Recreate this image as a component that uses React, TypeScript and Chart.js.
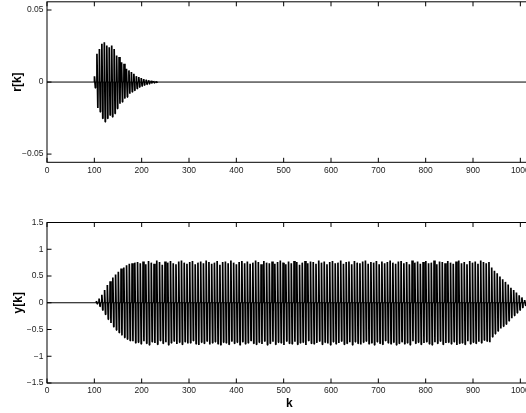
import React, { useEffect, useRef } from 'react';
import { Chart, registerables } from 'chart.js';

Chart.register(...registerables);

// ---------- data ----------
const K_MAX = 1024;
const xTickValues = [0, 100, 200, 300, 400, 500, 600, 700, 800, 900, 1000];
const xTickLabels = ['0', '100', '200', '300', '400', '500', '600', '700', '800', '900', '1000'];

const rTickValues = [-0.05, 0, 0.05];
const rTickLabels = ['\u22120.05', '0', '0.05'];
const R_LIMIT = 0.0557;

const yTickValues = [-1.5, -1, -0.5, 0, 0.5, 1, 1.5];
const yTickLabels = ['\u22121.5', '\u22121', '\u22120.5', '0', '0.5', '1', '1.5'];
const Y_LIMIT = 1.5;

// r[k]: burst, one entry per visible stripe (first stripe at k = 100, every 5.2 samples)
const rFirstK = 100;
const rStripeStep = 5.2;
const rUpper = [
  0.004, 0.0196, 0.023, 0.0265, 0.0276, 0.0253, 0.0242, 0.0253, 0.023, 0.0184, 0.0173, 0.0138, 0.0127,
  0.0092, 0.0081, 0.0069, 0.0058, 0.0041, 0.0035, 0.0028, 0.0021, 0.0016, 0.0012, 0.0009, 0.0006, 0.0004,
];
const rLower = [
  -0.004, -0.018, -0.0207, -0.0253, -0.0276, -0.0253, -0.023, -0.0242, -0.0219, -0.0184, -0.015, -0.0138, -0.0115,
  -0.0104, -0.0081, -0.0069, -0.0058, -0.0046, -0.0035, -0.0028, -0.0021, -0.0016, -0.0012, -0.0009, -0.0006, -0.0004,
];

// y[k]: one entry per visible stripe (first stripe at k = 104, every 5.8 samples)
const yFirstK = 104;
const yStripeStep = 5.8;
const yUpper = [
  0.03, 0.08, 0.15, 0.24, 0.33, 0.4, 0.47, 0.53, 0.58, 0.64, 0.66, 0.7, 0.73, 0.74, 0.75,
  0.76, 0.74, 0.77, 0.72, 0.78, 0.75, 0.73, 0.79, 0.76, 0.71, 0.77, 0.75, 0.78, 0.74, 0.72, 0.77,
  0.79, 0.75, 0.73, 0.76, 0.78, 0.72, 0.75, 0.77, 0.74, 0.79, 0.76, 0.73, 0.75, 0.78, 0.71, 0.76,
  0.77, 0.74, 0.79, 0.75, 0.72, 0.76, 0.78, 0.74, 0.77, 0.73, 0.75, 0.79, 0.76, 0.72, 0.78, 0.75,
  0.74, 0.77, 0.73, 0.76, 0.79, 0.75, 0.72, 0.77, 0.74, 0.78, 0.76, 0.71, 0.75, 0.78, 0.74, 0.77,
  0.76, 0.73, 0.79, 0.75, 0.77, 0.72, 0.76, 0.78, 0.74, 0.75, 0.79, 0.73, 0.76, 0.77, 0.72, 0.78,
  0.75, 0.74, 0.77, 0.79, 0.73, 0.76, 0.75, 0.78, 0.72, 0.77, 0.74, 0.76, 0.79, 0.75, 0.73, 0.77,
  0.78, 0.74, 0.76, 0.72, 0.79, 0.75, 0.77, 0.73, 0.76, 0.78, 0.74, 0.75, 0.79, 0.72, 0.77, 0.76,
  0.74, 0.78, 0.75, 0.73, 0.77, 0.79, 0.74, 0.76, 0.72, 0.78, 0.75, 0.77, 0.73, 0.79, 0.76, 0.74,
  0.76, 0.66, 0.6, 0.55, 0.49, 0.44, 0.39, 0.34, 0.28, 0.24, 0.19, 0.14, 0.1, 0.05, 0.02,
];
const yLower = [
  -0.02, -0.07, -0.14, -0.22, -0.31, -0.38, -0.45, -0.51, -0.56, -0.61, -0.65, -0.68, -0.71, -0.72, -0.75,
  -0.74, -0.77, -0.72, -0.76, -0.79, -0.73, -0.75, -0.78, -0.71, -0.76, -0.74, -0.79, -0.75, -0.72, -0.77, -0.74,
  -0.78, -0.73, -0.76, -0.75, -0.71, -0.77, -0.79, -0.74, -0.76, -0.72, -0.78, -0.75, -0.73, -0.77, -0.79, -0.74,
  -0.75, -0.78, -0.72, -0.76, -0.74, -0.79, -0.73, -0.77, -0.75, -0.71, -0.76, -0.78, -0.74, -0.77, -0.72, -0.79,
  -0.76, -0.73, -0.78, -0.74, -0.75, -0.79, -0.72, -0.76, -0.77, -0.73, -0.78, -0.75, -0.74, -0.79, -0.71, -0.76,
  -0.77, -0.75, -0.72, -0.78, -0.74, -0.76, -0.79, -0.73, -0.77, -0.75, -0.72, -0.78, -0.76, -0.74, -0.79, -0.73,
  -0.76, -0.78, -0.74, -0.72, -0.77, -0.75, -0.79, -0.73, -0.76, -0.78, -0.71, -0.75, -0.77, -0.74, -0.79, -0.76,
  -0.73, -0.77, -0.75, -0.79, -0.72, -0.76, -0.74, -0.78, -0.75, -0.73, -0.77, -0.79, -0.74, -0.76, -0.72, -0.78,
  -0.75, -0.74, -0.77, -0.73, -0.79, -0.76, -0.75, -0.78, -0.72, -0.77, -0.74, -0.76, -0.73, -0.75, -0.7, -0.72,
  -0.74, -0.64, -0.58, -0.53, -0.48, -0.44, -0.4, -0.34, -0.29, -0.24, -0.19, -0.14, -0.09, -0.05, -0.02,
];

// ---------- helpers ----------
type Pt = { x: number; y: number | null };

// the oscillating part of the signal, one short up/down stroke per stripe
function buildStripes(firstK: number, step: number, upper: number[], lower: number[]): Pt[] {
  const pts: Pt[] = [];
  for (let i = 0; i < upper.length; i++) {
    const k = firstK + i * step;
    pts.push(
      { x: k, y: 0 },
      { x: k + 0.3, y: upper[i] },
      { x: k + 2.2, y: lower[i] },
      { x: k + 2.6, y: 0 },
      { x: k + 2.8, y: null }
    );
  }
  return pts;
}

// the flat (zero) part of the signal
const baseline: Pt[] = [
  { x: 0, y: 0 },
  { x: K_MAX, y: 0 },
];

const TICK_LEN = 4.5;
const FONT = "'Liberation Sans', Arial, Helvetica, sans-serif";

const framePlugin = {
  id: 'matlabFrame',
  afterDraw(chart: any) {
    const { ctx, chartArea: a, scales } = chart;
    const xs = scales.x;
    const ys = scales.y;
    ctx.save();
    ctx.strokeStyle = '#000';
    ctx.lineWidth = 1;
    ctx.strokeRect(a.left, a.top, a.right - a.left, a.bottom - a.top);
    ctx.beginPath();
    xs.ticks.forEach((t: any) => {
      const p = xs.getPixelForValue(t.value);
      ctx.moveTo(p, a.bottom);
      ctx.lineTo(p, a.bottom - TICK_LEN);
      ctx.moveTo(p, a.top);
      ctx.lineTo(p, a.top + TICK_LEN);
    });
    ys.ticks.forEach((t: any) => {
      const p = ys.getPixelForValue(t.value);
      ctx.moveTo(a.left, p);
      ctx.lineTo(a.left + TICK_LEN, p);
      ctx.moveTo(a.right, p);
      ctx.lineTo(a.right - TICK_LEN, p);
    });
    ctx.stroke();
    ctx.restore();
  },
};

interface PanelCfg {
  stripes: Pt[];
  yLimit: number;
  yTicks: number[];
  yLabels: string[];
  yTitle: string;
  yTitlePad: number;
  xTitle: string | null;
  padTop: number;
  xAxisHeight: number;
}

function makeConfig(c: PanelCfg): any {
  return {
    type: 'line',
    data: {
      datasets: [
        {
          data: baseline,
          borderColor: '#000',
          borderWidth: 1,
          pointRadius: 0,
          tension: 0,
          fill: false,
        },
        {
          data: c.stripes,
          borderColor: '#000',
          borderWidth: 1.7,
          borderJoinStyle: 'bevel',
          pointRadius: 0,
          tension: 0,
          fill: false,
          spanGaps: false,
        },
      ],
    },
    options: {
      responsive: false,
      animation: false,
      devicePixelRatio: 1,
      parsing: false,
      layout: { autoPadding: false, padding: { top: c.padTop, right: 28.3, left: 0, bottom: 0 } },
      plugins: { legend: { display: false }, tooltip: { enabled: false }, title: { display: false } },
      events: [],
      scales: {
        x: {
          type: 'linear',
          min: 0,
          max: K_MAX,
          grid: { display: false, drawTicks: false },
          border: { display: false },
          afterBuildTicks: (s: any) => {
            s.ticks = xTickValues.map((v) => ({ value: v }));
          },
          afterFit: (s: any) => {
            s.height = c.xAxisHeight;
          },
          ticks: {
            padding: 3,
            maxRotation: 0,
            autoSkip: false,
            color: '#222',
            font: { family: FONT, size: 8.5 },
            callback: (_v: any, i: number) => xTickLabels[i],
          },
          title: c.xTitle
            ? { display: true, text: c.xTitle, color: '#000', padding: 2, font: { family: FONT, size: 12, weight: 'bold' } }
            : { display: false },
        },
        y: {
          type: 'linear',
          min: -c.yLimit,
          max: c.yLimit,
          grid: { display: false, drawTicks: false },
          border: { display: false },
          afterBuildTicks: (s: any) => {
            s.ticks = c.yTicks.map((v) => ({ value: v }));
          },
          afterFit: (s: any) => {
            s.width = 47;
          },
          ticks: {
            padding: 3.5,
            autoSkip: false,
            color: '#222',
            font: { family: FONT, size: 8.5 },
            callback: (_v: any, i: number) => c.yLabels[i],
          },
          title: {
            display: true,
            text: c.yTitle,
            color: '#000',
            padding: c.yTitlePad,
            font: { family: FONT, size: 12, weight: 'bold' },
          },
        },
      },
    },
    plugins: [framePlugin],
  };
}

export default function App() {
  const topRef = useRef<HTMLCanvasElement | null>(null);
  const botRef = useRef<HTMLCanvasElement | null>(null);

  useEffect(() => {
    const top = new Chart(
      topRef.current as HTMLCanvasElement,
      makeConfig({
        stripes: buildStripes(rFirstK, rStripeStep, rUpper, rLower),
        yLimit: R_LIMIT,
        yTicks: rTickValues,
        yLabels: rTickLabels,
        yTitle: 'r[k]',
        yTitlePad: 10,
        xTitle: null,
        padTop: 21.8,
        xAxisHeight: 37.7,
      })
    );
    const bot = new Chart(
      botRef.current as HTMLCanvasElement,
      makeConfig({
        stripes: buildStripes(yFirstK, yStripeStep, yUpper, yLower),
        yLimit: Y_LIMIT,
        yTicks: yTickValues,
        yLabels: yTickLabels,
        yTitle: 'y[k]',
        yTitlePad: 11,
        xTitle: 'k',
        padTop: 22.5,
        xAxisHeight: 30,
      })
    );
    return () => {
      top.destroy();
      bot.destroy();
    };
  }, []);

  return (
    <div
      style={{
        position: 'fixed',
        left: 0,
        top: 0,
        width: 526,
        height: 413,
        overflow: 'hidden',
        background: '#fff',
      }}
    >
      <canvas ref={topRef} width={560} height={220} style={{ position: 'absolute', left: 0, top: -20, width: 560, height: 220 }} />
      <canvas ref={botRef} width={560} height={213} style={{ position: 'absolute', left: 0, top: 200, width: 560, height: 213 }} />
    </div>
  );
}
